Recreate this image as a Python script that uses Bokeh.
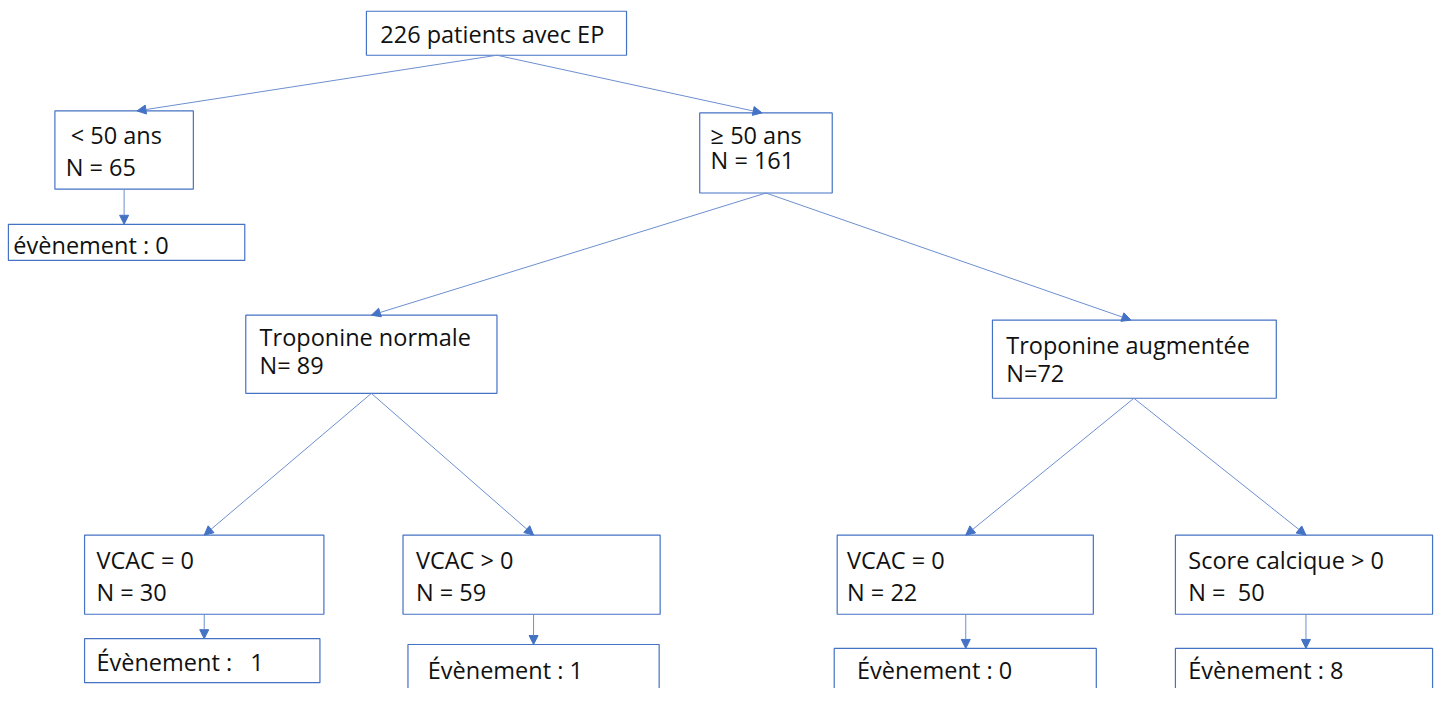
from bokeh.plotting import figure
from bokeh.models import Range1d, Arrow, NormalHead
from bokeh.core.properties import value
from bokeh.embed import file_html
from bokeh.resources import INLINE

NB = "\u00a0"
# ---- data ----
node_titles = ["226 patients avec EP", "< 50 ans", "évènement : 0", "≥ 50 ans",
               "Troponine normale", "Troponine augmentée",
               "VCAC = 0", "Évènement :" + NB + NB + " 1", "VCAC > 0", "Évènement : 1",
               "VCAC = 0", "Évènement : 0", "Score calcique > 0", "Évènement : 8"]
node_counts = ["", "N = 65", "", "N = 161", "N= 89", "N=72",
               "N = 30", "", "N = 59", "", "N = 22", "", "N =" + NB + " 50", ""]
edges_from = [0, 0, 1, 3, 3, 4, 4, 6, 8, 5, 5, 10, 12]
edges_to = [1, 3, 2, 4, 5, 6, 8, 7, 9, 10, 12, 11, 13]

# ---- layout (reference pixels) ----
box_l = [370, 55, 8, 707, 248, 1003, 85, 85, 407, 412, 846, 843, 1188, 1188]
box_r = [633, 195, 247, 841, 502, 1290, 327, 323, 667, 666, 1105, 1108, 1448, 1448]
box_t = [11, 113, 229, 115, 322, 327, 547, 653, 547, 659, 547, 663, 547, 663]
box_b = [56, 193, 266, 197, 402, 407, 628, 698, 628, 712, 628, 712, 628, 712]
txt_x = [384, 71, 13, 718, 262, 1017, 97, 97, 420, 432, 856, 866, 1201, 1201]
txt_y1 = [34, 138, 250, 138, 344, 352, 572, 677, 572, 685, 572, 685, 572, 685]
txt_y2 = [None, 170, None, 163, 373, 381, 605, None, 605, None, 605, None, 605, None]
txt_x2 = [None, 66, None, 718, 262, 1017, 97, None, 420, None, 856, None, 1201, None]
src_x = {0: 502, 1: 125, 3: 774, 4: 375, 5: 1146, 6: 206, 8: 539, 10: 976, 12: 1320}
dst_x = {1: 138, 3: 770, 2: 125, 4: 375, 5: 1143, 6: 206, 8: 539, 7: 206, 9: 539,
         10: 976, 12: 1320, 11: 976, 13: 1320}

W, H = 1437, 688
p = figure(width=W, height=H, output_backend="svg", toolbar_location=None,
           x_range=Range1d(0, 1453), y_range=Range1d(704, 0),
           min_border=0, outline_line_color=None)
p.axis.visible = False
p.grid.visible = False
p.background_fill_color = "white"

BLUE = "#4472C4"
LINE = "#6d8fcf"
FONT = "Open Sans"
FS = "23.5px"

p.quad(left=box_l, right=box_r, top=box_t, bottom=box_b,
       fill_color="white", line_color=BLUE, line_width=1.2)

for a, b in zip(edges_from, edges_to):
    p.add_layout(Arrow(end=NormalHead(size=9, fill_color=BLUE, line_color=BLUE),
                       x_start=src_x[a], y_start=box_b[a],
                       x_end=dst_x[b], y_end=box_t[b],
                       line_color=LINE, line_width=1))

p.text(x=txt_x, y=txt_y1, text=node_titles, text_font=value(FONT),
       text_font_size=FS, text_baseline="middle", text_align="left",
       text_color="#111111")
idx = [i for i, v in enumerate(node_counts) if v]
p.text(x=[txt_x2[i] for i in idx], y=[txt_y2[i] for i in idx],
       text=[node_counts[i] for i in idx], text_font=value(FONT),
       text_font_size=FS, text_baseline="middle", text_align="left",
       text_color="#111111")

open("out.html", "w").write(file_html(p, INLINE))
